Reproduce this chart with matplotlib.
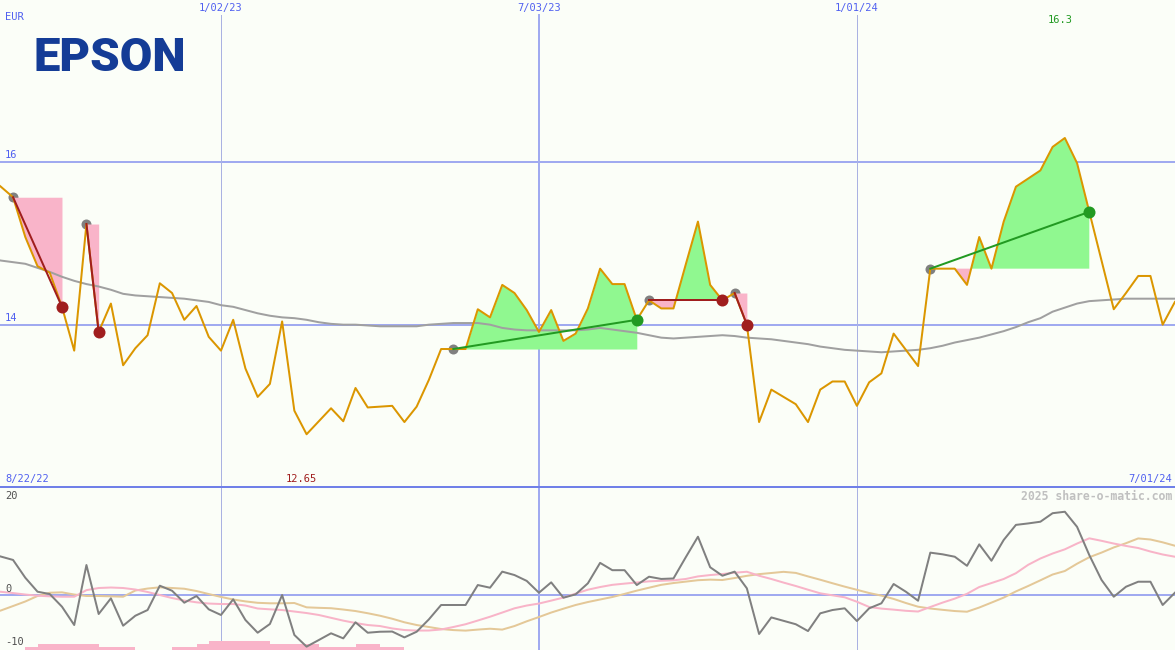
import matplotlib
matplotlib.use('Agg')
import matplotlib.pyplot as plt
import matplotlib.transforms as mtransforms
from matplotlib.lines import Line2D
import numpy as np

# ---------------- data (weekly, week 0 = 8/22/22) ----------------
price = [15.82, 15.70, 15.57, 15.08, 14.72, 14.64, 14.22, 13.68, 15.24, 13.91,
         14.26, 13.50, 13.71, 13.87, 14.51, 14.39, 14.06, 14.23, 13.85, 13.68,
         14.06, 13.46, 13.11, 13.27, 14.04, 12.94, 12.65, 12.81, 12.97, 12.81,
         13.22, 12.98, 12.99, 13.00, 12.80, 12.99, 13.32, 13.70, 13.70, 13.70,
         14.19, 14.09, 14.49, 14.39, 14.18, 13.91, 14.18, 13.80, 13.89, 14.20,
         14.69, 14.50, 14.50, 14.06, 14.30, 14.20, 14.20, 14.74, 15.27, 14.49,
         14.30, 14.39, 14.00, 12.80, 13.20, 13.11, 13.02, 12.80, 13.20, 13.30,
         13.30, 13.00, 13.29, 13.40, 13.89, 13.69, 13.49, 14.69, 14.69, 14.69,
         14.49, 15.08, 14.69, 15.27, 15.70, 15.80, 15.90, 16.19, 16.30, 15.99,
         15.39, 14.79, 14.19, 14.39, 14.60, 14.60, 14.00, 14.28]

moving_avg = [14.82, 14.79, 14.77, 14.75, 14.70, 14.65, 14.59, 14.54, 14.50, 14.47,
              14.43, 14.38, 14.36, 14.35, 14.34, 14.33, 14.32, 14.30, 14.28, 14.24,
              14.22, 14.18, 14.14, 14.11, 14.09, 14.08, 14.06, 14.03, 14.01, 14.00,
              14.00, 13.99, 13.98, 13.98, 13.98, 13.98, 14.00, 14.01, 14.02, 14.02,
              14.02, 14.00, 13.96, 13.94, 13.93, 13.93, 13.93, 13.93, 13.93, 13.94,
              13.96, 13.94, 13.92, 13.90, 13.87, 13.84, 13.83, 13.84, 13.85, 13.86,
              13.87, 13.86, 13.84, 13.83, 13.82, 13.80, 13.78, 13.76, 13.73, 13.71,
              13.69, 13.68, 13.67, 13.66, 13.67, 13.68, 13.69, 13.71, 13.74, 13.78,
              13.81, 13.84, 13.88, 13.92, 13.97, 14.03, 14.08, 14.16, 14.21, 14.26,
              14.29, 14.30, 14.31, 14.32, 14.32, 14.32, 14.32, 14.32]

momentum = [8.6, 7.9, 7.2, 3.55, 0.68, 0.2, -2.4, -6.16, 6.16, -3.9,
            -0.68, -6.3, -4.25, -3.08, 1.91, 0.88, -1.58, -0.2, -2.94, -4.1,
            -0.88, -5.13, -7.74, -5.95, 0.0, -8.2, -10.6, -9.24, -7.86, -8.9,
            -5.6, -7.74, -7.54, -7.5, -8.7, -7.54, -5.0, -2.05, -2.05, -2.05,
            2.05, 1.5, 4.8, 4.1, 2.9, 0.47, 2.6, -0.55, 0.14, 2.4,
            6.6, 5.1, 5.1, 2.05, 3.76, 3.3, 3.4, 7.74, 11.97, 5.7,
            3.96, 4.8, 1.37, -8.0, -4.6, -5.3, -6.0, -7.4, -3.76, -3.08,
            -2.73, -5.34, -2.73, -1.7, 2.26, 0.68, -1.17, 8.7, 8.36, 7.86,
            6.0, 10.4, 7.04, 11.3, 14.4, 14.7, 15.05, 16.8, 17.1, 14.0,
            8.2, 3.1, -0.35, 1.7, 2.73, 2.73, -2.05, 0.47]

momentum_fast = [0.8, 0.66, 0.4, 0.1, -0.14, -0.27, -0.35, -0.35, 1.0, 1.44,
                 1.54, 1.44, 1.13, 0.62, 0.0, -0.62, -1.13, -1.5, -1.75, -1.85,
                 -1.85, -2.16, -2.77, -2.94, -3.08, -3.39, -3.7, -4.1, -4.68, -5.26,
                 -5.75, -6.16, -6.37, -6.86, -7.19, -7.3, -7.29, -7.08, -6.57, -6.0,
                 -5.24, -4.46, -3.6, -2.73, -2.16, -1.75, -1.15, -0.53, 0.29, 1.09,
                 1.64, 2.09, 2.34, 2.57, 2.81, 2.92, 3.02, 3.29, 3.82, 4.1,
                 4.31, 4.58, 4.78, 3.96, 3.29, 2.55, 1.85, 1.09, 0.35, -0.06,
                 -0.47, -1.38, -2.46, -2.79, -3.0, -3.24, -3.39, -2.46, -1.56, -0.74,
                 0.25, 1.64, 2.46, 3.29, 4.48, 6.2, 7.5, 8.52, 9.38, 10.57,
                 11.64, 11.13, 10.57, 10.08, 9.65, 8.93, 8.32, 7.86]

momentum_slow = [-3.9, -3.18, -2.26, -1.33, -0.2, 0.47, 0.55, 0.1, -0.2, -0.2,
                 -0.27, -0.35, 0.92, 1.33, 1.58, 1.44, 1.29, 0.82, 0.2, -0.39,
                 -0.92, -1.31, -1.6, -1.7, -1.7, -1.64, -2.53, -2.63, -2.71, -2.98,
                 -3.29, -3.74, -4.25, -4.87, -5.6, -6.16, -6.57, -6.98, -7.2, -7.31,
                 -7.1, -6.92, -7.1, -6.37, -5.4, -4.52, -3.6, -2.81, -2.05, -1.44,
                 -0.92, -0.41, 0.23, 0.9, 1.5, 2.09, 2.46, 2.75, 3.04, 3.16,
                 3.08, 3.49, 3.94, 4.29, 4.52, 4.76, 4.54, 3.82, 3.14, 2.42,
                 1.72, 1.07, 0.41, -0.12, -0.8, -1.64, -2.4, -2.77, -3.04, -3.29,
                 -3.43, -2.57, -1.56, -0.53, 0.74, 1.85, 3.02, 4.21, 4.93, 6.43,
                 7.76, 8.71, 9.77, 10.64, 11.62, 11.4, 10.82, 10.12]

# signal strength bars at the bottom (0..3)
bar_level = [0, 0, 0, 1, 2, 2, 2, 2, 2, 1, 1, 1, 0, 0, 0, 1, 1, 2, 3, 3,
             3, 3, 3, 2, 2, 2, 2, 1, 1, 1, 2, 2, 1, 1] + [0] * 64

# trades: (entry week, exit week)
trades = [(2, 6), (8, 9), (38, 53), (54, 60), (61, 62), (77, 90)]

date_ticks = [19, 45, 71]
date_labels = ['1/02/23', '7/03/23', '1/01/24']
price_ticks = [16, 14]
osc_ticks = [20, 0, -10]
start_label, end_label = '8/22/22', '7/01/24'
currency = 'EUR'
logo = 'EPSON'
watermark = '2025 share-o-matic.com'

# ---------------- styling ----------------
W, H = 1175, 650
BG = '#fbfef8'
BLUE_TXT = '#5060f0'
GRID = '#a0aaf0'
YEARGRID = '#aab2e2'
ORANGE = '#db9600'
GRAYMA = '#a0a0a0'
GREEN_FILL = '#90f890'
PINK = '#f9b4c9'
GREEN = '#229a22'
DRED = '#a01e1e'
MONO = 'DejaVu Sans Mono'
PX = 0.72  # points per pixel

weeks = np.arange(len(price))
price = np.array(price)

fig = plt.figure(figsize=(W / 100, H / 100), dpi=100)
fig.patch.set_facecolor(BG)
main_h = 487
ax1 = fig.add_axes([0, (H - main_h) / H, 1, main_h / H])
ax2 = fig.add_axes([0, 0, 1, (H - main_h) / H])

x0 = (0 + 11.4) / 12.23
x1 = (W + 11.4) / 12.23
for ax in (ax1, ax2):
    ax.set_xlim(x0, x1)
    ax.set_facecolor(BG)
    for s in ax.spines.values():
        s.set_visible(False)
    ax.set_xticks([])
    ax.set_yticks([])
ax1.set_ylim(12, 18)
osc_lo, osc_hi = -11.29, 22.18
ax2.set_ylim(osc_lo, osc_hi)


def fig_px(x, y):
    return x / W, 1 - y / H


# ---------------- main panel ----------------
tr1 = mtransforms.blended_transform_factory(ax1.transAxes, ax1.transData)
for v in price_ticks:
    ax1.axhline(v, color=GRID, lw=2 * PX, zorder=1)
    ax1.text(5 / W, v + 2.0 / 81.17, str(v), transform=tr1,
             ha='left', va='bottom', color=BLUE_TXT, fontsize=7.5, family=MONO)

for t, lab in zip(date_ticks, date_labels):
    yearline = lab.startswith('1/')
    col = YEARGRID if yearline else GRID
    lw = (1 if yearline else 2) * PX
    ax1.axvline(t, ymin=0, ymax=1 - 15 / main_h, color=col, lw=lw, zorder=1)
    ax2.axvline(t, color=col, lw=lw, zorder=1)
    ax1.text(t, 1 - 8 / main_h, lab, transform=ax1.get_xaxis_transform(),
             ha='center', va='center', color=BLUE_TXT, fontsize=7.5, family=MONO)

ax1.plot(weeks, moving_avg, color=GRAYMA, lw=2 * PX, zorder=3.5)

for a, b in trades:
    entry = price[a]
    xs = weeks[a:b + 1]
    ps = price[a:b + 1]
    ax1.plot([a], [entry], 'o', ms=10 * PX, color='#808080', mew=0, zorder=2)
    ax1.fill_between(xs, ps, entry, where=ps >= entry, interpolate=True,
                     color=GREEN_FILL, lw=0, zorder=3)
    ax1.fill_between(xs, ps, entry, where=ps <= entry, interpolate=True,
                     color=PINK, lw=0, zorder=3)

ax1.plot(weeks, price, color=ORANGE, lw=2 * PX, zorder=4)

for a, b in trades:
    win = price[b] > price[a]
    col = GREEN if win else DRED
    ax1.plot([a, b], [price[a], price[b]], color=col, lw=2 * PX, zorder=5)
    ax1.plot([b], [price[b]], 'o', ms=12 * PX, color=col, mew=0, zorder=6)

imin = int(np.argmin(price))
imax = int(np.argmax(price))
ax1.text(imin - 0.45, 1 - 479 / main_h, f'{price[imin]:.2f}', transform=ax1.get_xaxis_transform(),
         ha='center', va='center', color=DRED, fontsize=7.5, family=MONO)
ax1.text(imax - 0.4, 1 - 20 / main_h, f'{price[imax]:.1f}', transform=ax1.get_xaxis_transform(),
         ha='center', va='center', color=GREEN, fontsize=7.5, family=MONO)
ax1.text(5 / W, 1 - 479 / main_h, start_label, transform=ax1.transAxes,
         ha='left', va='center', color=BLUE_TXT, fontsize=7.5, family=MONO)
ax1.text(1 - 3 / W, 1 - 479 / main_h, end_label, transform=ax1.transAxes,
         ha='right', va='center', color=BLUE_TXT, fontsize=7.5, family=MONO)
fig.text(*fig_px(5, 17), currency, ha='left', va='center', color=BLUE_TXT,
         fontsize=7.5, family=MONO)
fig.text(*fig_px(34, 71), logo, ha='left', va='baseline', color='#143c96',
         fontsize=34, family='Roboto', weight='black')

# ---------------- oscillator panel ----------------
ax2.axhline(0, color=GRID, lw=2 * PX, zorder=1)
bar_h = np.array(bar_level) * 0.62
ax2.bar(weeks, bar_h, width=1.0, align='edge', bottom=osc_lo, color=PINK, lw=0, zorder=2)
ax2.plot(weeks, momentum_slow, color='#e4c898', lw=2 * PX, zorder=3)
ax2.plot(weeks, momentum_fast, color='#f8b4c8', lw=2 * PX, zorder=3)
ax2.plot(weeks, momentum, color='#808080', lw=2 * PX, zorder=4)

tr2 = mtransforms.blended_transform_factory(ax2.transAxes, ax2.transData)
for v in osc_ticks:
    dy = 6 if v == 0 else 2
    ax2.text(5 / W, v + dy / 4.87, str(v), transform=tr2, ha='left', va='center',
             color='#505050', fontsize=7.5, family=MONO)

fig.text(*fig_px(1172, 496), watermark, ha='right', va='center', color='#c0c0c0',
         fontsize=8.3, family=MONO, weight='bold')

# panel separator
sep_y = 1 - 486.7 / H
fig.add_artist(Line2D([0, 1], [sep_y, sep_y], transform=fig.transFigure,
                      color='#7080e8', lw=2 * PX, zorder=10))

fig.savefig('out.png', dpi=100, facecolor=BG)
